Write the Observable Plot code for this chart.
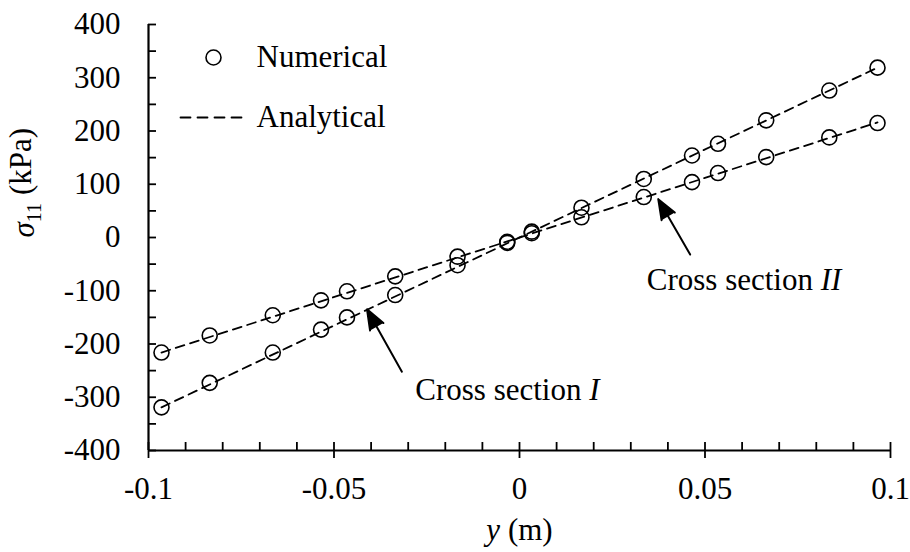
<!DOCTYPE html>
<html><head><meta charset="utf-8">
<script src="https://cdn.jsdelivr.net/npm/d3@7"></script>
<script src="https://cdn.jsdelivr.net/npm/@observablehq/plot@0.6"></script>
<style>body{margin:0;background:#fff}</style>
</head><body><div id="chart"></div>
<script>
// ---- data ----
const yPositions = [-0.0965,-0.0835,-0.0665,-0.0535,-0.0465,-0.0335,-0.0167,-0.0033,0.0033,0.0167,0.0335,0.0465,0.0535,0.0665,0.0835,0.0965];
const sectionI  = [-319,-273,-216,-173,-150,-108,-52,-10,11,56,110,154,176,220,276,319];
const sectionII = [-216,-184,-146,-118,-101,-73,-36,-8,8,38,76,104,121,151,188,215];
const analyticalY = [-0.0965, 0.0965];
const analyticalI = [-319, 319];
const analyticalII = [-216, 216];
const seriesNames = ["Numerical", "Analytical"];
const xTicks = [-0.1, -0.05, 0, 0.05, 0.1];
const xTickLabels = ["-0.1", "-0.05", "0", "0.05", "0.1"];
const xMinorTicks = [-0.1,-0.09,-0.08,-0.07,-0.06,-0.05,-0.04,-0.03,-0.02,-0.01,0,0.01,0.02,0.03,0.04,0.05,0.06,0.07,0.08,0.09,0.1];
const yTicks = [-400,-300,-200,-100,0,100,200,300,400];
const yTickLabels = ["-400","-300","-200","-100","0","100","200","300","400"];
const yMinorTicks = [-400,-350,-300,-250,-200,-150,-100,-50,0,50,100,150,200,250,300,350,400];
const xTitle = "y (m)";
const yTitle = "σ11 (kPa)";
// annotations (data coordinates)
const annotLabels = ["Cross section I", "Cross section II"];
const annotX = [-0.0281, 0.0343];
const annotS = [-287, -80];
const arrowFromX = [-0.0317, 0.046];
const arrowFromS = [-252, -32];
const arrowToX = [-0.0411, 0.0374];
const arrowToS = [-135, 72];

const numerical = yPositions.flatMap((y, i) => [{y, s: sectionI[i]}, {y, s: sectionII[i]}]);
const analytical = [
  ...analyticalY.map((y, i) => ({y, s: analyticalI[i], k: "I"})),
  ...analyticalY.map((y, i) => ({y, s: analyticalII[i], k: "II"}))
];

const FS = 31;
const chart = Plot.plot({
  width: 910, height: 552,
  marginLeft: 148, marginRight: 20, marginTop: 24, marginBottom: 102,
  x: {domain: [-0.1, 0.1]},
  y: {domain: [-400, 400]},
  style: {fontFamily: "'Liberation Serif','Times New Roman',serif", fontSize: FS + "px", color: "black", background: "white"},
  marks: [
    Plot.axisY(yMinorTicks, {tickSize: -8, tickFormat: () => "", label: null, strokeWidth: 1.8}),
    Plot.axisY(yTicks, {tickSize: 0, tickPadding: 28, tickFormat: d => yTickLabels[yTicks.indexOf(d)], label: null, fontSize: FS}),
    Plot.axisX(xMinorTicks, {tickSize: -8, tickFormat: () => "", label: null, strokeWidth: 1.8}),
    Plot.axisX(xTicks, {tickSize: 8, tickPadding: 18, tickFormat: d => xTickLabels[xTicks.indexOf(d)], label: null, fontSize: FS, strokeWidth: 1.8}),
    Plot.ruleX([-0.1], {strokeWidth: 2.2}),
    Plot.ruleY([-400], {strokeWidth: 2.2}),
    Plot.line(analytical, {x: "y", y: "s", z: "k", stroke: "black", strokeWidth: 1.8, strokeDasharray: "9,6"}),
    Plot.dot(numerical, {x: "y", y: "s", r: 7.5, stroke: "black", strokeWidth: 1.6, fill: "none"}),
    Plot.arrow(annotLabels, {x1: arrowFromX, y1: arrowFromS, x2: arrowToX, y2: arrowToS, stroke: "black", fill: "black", strokeWidth: 2, headLength: 16, headAngle: 42}),
    Plot.text(annotLabels, {x: annotX, y: annotS, text: d => d, textAnchor: "start", lineAnchor: "middle", fontSize: FS, className: "annot"}),
    // legend
    Plot.dot([seriesNames[0]], {frameAnchor: "top-left", dx: 65, dy: 33, r: 7.5, stroke: "black", strokeWidth: 1.6, fill: "none"}),
    Plot.vector([seriesNames[1]], {frameAnchor: "top-left", dx: 32, dy: 93, length: 62, rotate: 90, anchor: "start",
      shape: {draw(ctx, l) { ctx.moveTo(0, 0); ctx.lineTo(0, -l); }},
      stroke: "black", strokeWidth: 1.8, strokeDasharray: "10,7"}),
    Plot.text([seriesNames[0]], {frameAnchor: "top-left", dx: 108, dy: 33, text: d => d, textAnchor: "start", lineAnchor: "middle", fontSize: FS}),
    Plot.text([seriesNames[1]], {frameAnchor: "top-left", dx: 108, dy: 93, text: d => d, textAnchor: "start", lineAnchor: "middle", fontSize: FS}),
    // axis titles
    Plot.text([yTitle], {frameAnchor: "left", dx: -124, rotate: -90, text: d => d, lineAnchor: "middle", fontSize: FS, className: "ylab"}),
    Plot.text([xTitle], {frameAnchor: "bottom", dy: 80, text: d => d, lineAnchor: "middle", fontSize: FS, className: "xlab"})
  ]
});
document.getElementById("chart").appendChild(chart);

// rich text styling (italics / subscript)
const root = d3.select(chart);
root.select("g.ylab text").each(function() {
  const t = d3.select(this); t.text(null);
  t.append("tspan").attr("font-style", "italic").text("σ");
  t.append("tspan").attr("font-size", "0.65em").attr("dy", "0.35em").text("11");
  t.append("tspan").attr("dy", "-0.35em").text(" (kPa)");
});
root.select("g.xlab text").each(function() {
  const t = d3.select(this); t.text(null);
  t.append("tspan").attr("font-style", "italic").text("y");
  t.append("tspan").text(" (m)");
});
root.selectAll("g.annot text").each(function() {
  const t = d3.select(this); const s = t.text(); const m = s.match(/^(.*?)(I+)$/);
  t.text(null);
  t.append("tspan").text(m[1]);
  t.append("tspan").attr("font-style", "italic").text(m[2]);
});
</script>
</body></html>
